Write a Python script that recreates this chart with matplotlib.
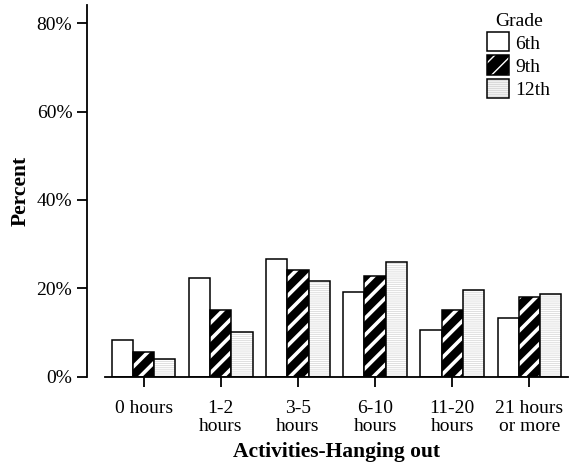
import numpy as np
import matplotlib
matplotlib.use("Agg")
import matplotlib.pyplot as plt
from matplotlib.legend_handler import HandlerTuple

plt.rcParams['font.family'] = ['Liberation Serif', 'DejaVu Serif']

# --- data (percent) ---
categories = ['0 hours', '1-2\nhours', '3-5\nhours', '6-10\nhours', '11-20\nhours', '21 hours\nor more']
grades = ['6th', '9th', '12th']
pct_6th = [8.3, 22.4, 26.7, 19.1, 10.6, 13.2]
pct_9th = [5.5, 15.0, 24.1, 22.7, 15.1, 18.1]
pct_12th = [3.9, 10.2, 21.7, 26.0, 19.6, 18.7]
yticks = [0, 20, 40, 60, 80]

fig = plt.figure(figsize=(5.71, 4.76), dpi=100)
ax = fig.add_axes([0.1839, 0.2086, 0.8109, 0.7800])

x = np.arange(len(categories))
w = 0.275
series = [pct_6th, pct_9th, pct_12th]
# (face colour, hatch, hatch colour, hatch width)
styles = [('white', None, 'black', 1.0),
          ('black', '//', 'white', 2.6),
          ('white', '--------', '#dadada', 0.6)]

handles = []
for i, (vals, (fc, hatch, hc, hlw)) in enumerate(zip(series, styles)):
    pos = x + (i - 1) * w
    with plt.rc_context({'hatch.linewidth': hlw}):
        fill = ax.bar(pos, vals, w, color=fc, hatch=hatch, edgecolor=hc, linewidth=0)
    edge = ax.bar(pos, vals, w, fill=False, edgecolor='black', linewidth=1.1)
    handles.append((fill, edge))

ax.set_xlim(-0.5, 5.5)
ax.set_ylim(0, 84)
ax.set_yticks(yticks)
ax.set_yticklabels([f'{v}%' for v in yticks])
ax.set_xticks(x)
ax.set_xticklabels(categories, linespacing=1.1)

for s in ['top', 'right']:
    ax.spines[s].set_visible(False)
ax.spines['left'].set_position(('outward', 13))
ax.spines['left'].set_linewidth(1.3)
ax.spines['bottom'].set_linewidth(1.3)
ax.tick_params(axis='both', length=7.5, width=1.3, labelsize=14, pad=3)
ax.tick_params(axis='x', pad=9)

ax.set_ylabel('Percent', fontsize=15.5, fontweight='bold', labelpad=4)
ax.set_xlabel('Activities-Hanging out', fontsize=15.5, fontweight='bold', labelpad=5)

leg = ax.legend(handles, grades, title='Grade', frameon=False,
                handler_map={tuple: HandlerTuple(ndivide=1)},
                fontsize=14, title_fontsize=14,
                handlelength=1.13, handleheight=1.13, handletextpad=0.3,
                labelspacing=0.15, loc='upper right',
                bbox_to_anchor=(0.999, 1.028))

fig.savefig('out.png', dpi=100)
